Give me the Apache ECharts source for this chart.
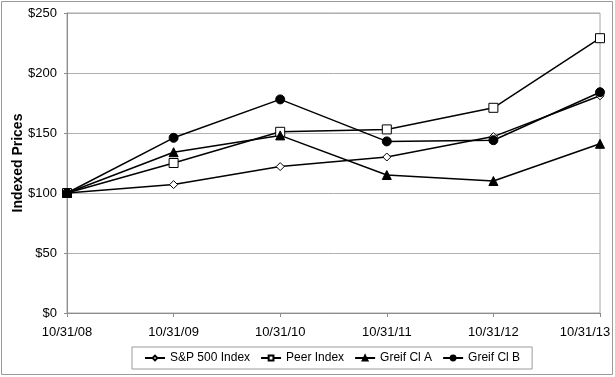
<!DOCTYPE html>
<html>
<head>
<meta charset="utf-8">
<script src="https://cdn.jsdelivr.net/npm/echarts@6/dist/echarts.min.js"></script>
<style>
  html, body { margin: 0; padding: 0; background: #fff; }
  #chart { width: 615px; height: 377px; }
</style>
</head>
<body>
<div id="chart"></div>
<script>
// values
var dates = ['10/31/08', '10/31/09', '10/31/10', '10/31/11', '10/31/12', '10/31/13'];
var sp500 = [100, 107, 122, 130, 147, 181];
var peer = [100, 125, 151, 153, 171, 229];
var greifA = [100, 134, 148, 115, 110, 141];
var greifB = [100, 146, 178, 143, 144, 184];

var chart = echarts.init(document.getElementById('chart'));

function line(name, data, symbol, size, fill) {
    return {
        name: name,
        type: 'line',
        data: data,
        symbol: symbol,
        symbolSize: size,
        showSymbol: true,
        lineStyle: { color: '#000', width: 1.5 },
        itemStyle: { color: fill, borderColor: '#000', borderWidth: 1 },
        emphasis: { disabled: true }
    };
}

chart.setOption({
    animation: false,
    textStyle: { fontFamily: 'Liberation Sans, Arial, sans-serif', color: '#000' },
    graphic: [{
        type: 'rect',
        shape: { x: 1.5, y: 1.5, width: 611, height: 373 },
        style: { fill: 'none', stroke: '#9a9a9a', lineWidth: 1 },
        silent: true
    }],
    grid: {
        left: 67, right: 15, top: 13, bottom: 64,
        outerBoundsMode: 'none',
        show: true, borderColor: '#a6a6a6', borderWidth: 1
    },
    legend: {
        bottom: 8,
        left: 132,
        itemWidth: 20,
        itemHeight: 6,
        itemGap: 10,
        padding: [5, 12, 5, 12],
        borderColor: '#9a9a9a',
        borderWidth: 1,
        textStyle: { fontSize: 12, color: '#000', fontFamily: 'Liberation Sans, Arial, sans-serif' },
        data: ['S&P 500 Index', 'Peer Index', 'Greif Cl A', 'Greif Cl B']
    },
    xAxis: {
        type: 'category',
        data: dates,
        boundaryGap: false,
        axisLine: { lineStyle: { color: '#8c8c8c', width: 1 } },
        axisTick: { show: true, length: 4, interval: 0, lineStyle: { color: '#8c8c8c' } },
        axisLabel: {
            color: '#000', fontSize: 13, margin: 13, interval: 0, hideOverlap: false,
            formatter: function (v, i) {
                return i === dates.length - 1 ? '{last|' + v + '}' : v;
            },
            rich: { last: { fontSize: 13, color: '#000', padding: [0, 30, 0, 0] } }
        }
    },
    yAxis: {
        type: 'value',
        min: 0,
        max: 250,
        interval: 50,
        name: 'Indexed Prices',
        nameLocation: 'middle',
        nameGap: 42,
        nameMoveOverlap: false,
        nameTextStyle: { fontSize: 14, fontWeight: 'bold', color: '#000' },
        axisLine: { show: true, lineStyle: { color: '#8c8c8c' } },
        axisTick: { show: true, length: 3, lineStyle: { color: '#8c8c8c' } },
        axisLabel: { color: '#000', fontSize: 13, margin: 10, formatter: '${value}' },
        splitLine: { lineStyle: { color: '#b0b0b0', width: 1 } }
    },
    series: [
        line('S&P 500 Index', sp500, 'diamond', 8, '#fff'),
        line('Peer Index', peer, 'rect', 9, '#fff'),
        line('Greif Cl A', greifA, 'triangle', 9, '#000'),
        line('Greif Cl B', greifB, 'circle', 9, '#000')
    ]
});
</script>
</body>
</html>
